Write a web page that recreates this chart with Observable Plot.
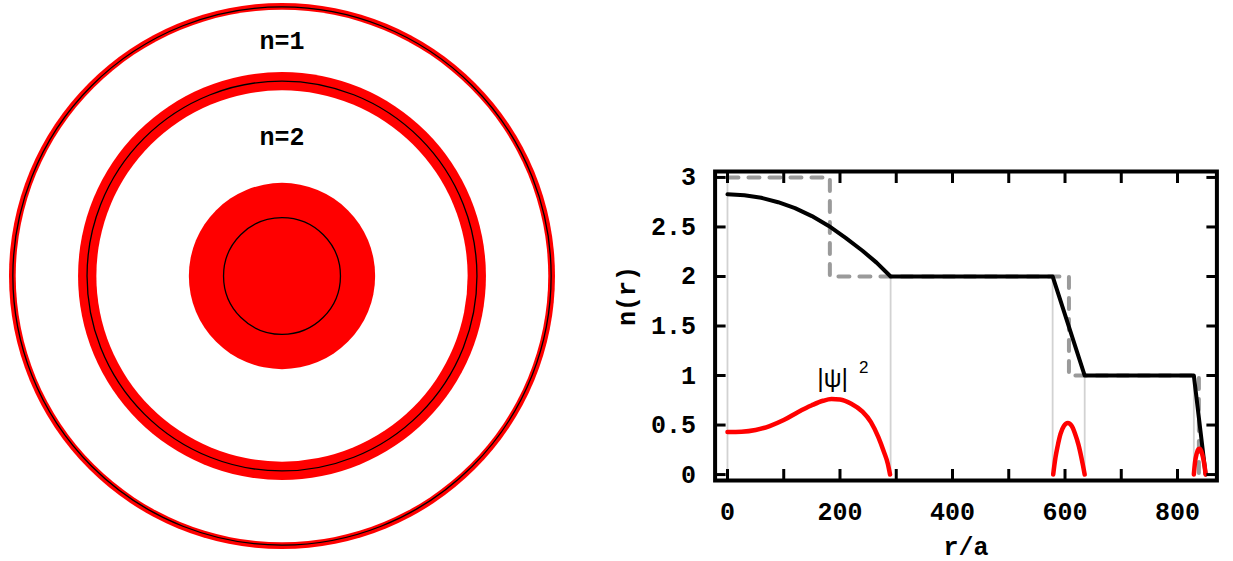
<!DOCTYPE html>
<html>
<head>
<meta charset="utf-8">
<script src="https://cdn.jsdelivr.net/npm/d3@7"></script>
<script src="https://cdn.jsdelivr.net/npm/@observablehq/plot@0.6"></script>
<style>
  html, body { margin: 0; padding: 0; background: #fff; }
  #wrap { display: flex; width: 1233px; height: 561px; overflow: hidden; }
</style>
</head>
<body>
<div id="wrap"></div>
<script>
// Radial guide geometry, in units of r/a
const guideRings = [[0, 290], [578, 635], [829, 850]];   // high-field regions [inner, outer]
const stepRadii = [182, 607, 838];                        // step-index boundaries
const stepLevels = [3, 2, 1, 0];                          // n on each side of the steps
const indexLabels = ["n=2", "n=1"];                       // gap between rings 0-1, then 1-2

// Graded index profile n(r)
const gradedR = [0, 30, 60, 90, 120, 150, 180, 210, 240, 265, 290, 578, 635, 829, 850];
const gradedN = [2.83, 2.82, 2.795, 2.75, 2.69, 2.61, 2.51, 2.39, 2.26, 2.14, 2.0, 2.0, 1.0, 1.0, 0.0];

// Light region boundaries
const boundaryR = [0, 290, 578, 635, 829];
const boundaryTop = [3, 2, 2, 1, 1];

// |psi|^2 in each region
const mode1R = [0, 25, 50, 75, 100, 125, 150, 170, 185, 200, 220, 240, 255, 268, 278, 285, 289];
const mode1V = [0.43, 0.433, 0.45, 0.49, 0.55, 0.63, 0.70, 0.745, 0.762, 0.757, 0.715, 0.635, 0.53, 0.38, 0.23, 0.11, 0.0];
const mode2R = [579, 583, 587, 592, 598, 605, 612, 618, 624, 629, 632, 635];
const mode2V = [0, 0.17, 0.29, 0.41, 0.49, 0.52, 0.49, 0.41, 0.30, 0.175, 0.09, 0];
const mode3R = [829, 831, 834, 837, 839, 842, 845, 848, 850];
const mode3V = [0, 0.12, 0.21, 0.255, 0.26, 0.24, 0.18, 0.09, 0];

// Axis ticks
const xTicks = [0, 100, 200, 300, 400, 500, 600, 700, 800];
const xTickLabels = [0, 200, 400, 600, 800];
const yTicks = [0, 0.5, 1, 1.5, 2, 2.5, 3];

const RED = "#ff0000";
const MONO = "'Courier New', 'Liberation Mono', monospace";
const SANS = "'Liberation Sans', Arial, sans-serif";

// ---------- cross-section ----------
const disks = guideRings
  .flatMap(([inner, outer]) => [{r: outer, hole: false}, {r: inner, hole: true}])
  .filter(d => d.r > 0)
  .sort((a, b) => b.r - a.r);

// each label sits midway across the gap between two neighbouring rings
const labelRows = indexLabels.map((text, i) => ({
  text,
  y: (guideRings[i][1] + guideRings[i + 1][0]) / 2
}));

const section = Plot.plot({
  width: 600,
  height: 561,
  marginLeft: 8.5,
  marginRight: 45.5,
  marginTop: 2.5,
  marginBottom: 12.5,
  x: {domain: [-850, 850], axis: null},
  y: {domain: [-850, 850], axis: null},
  r: {type: "linear", domain: [0, 850], range: [0, 273]},
  color: {type: "identity"},
  style: {background: "white", overflow: "visible"},
  marks: [
    Plot.dot(disks, {x: 0, y: 0, r: "r", fill: d => d.hole ? "white" : RED, stroke: null, sort: null}),
    Plot.dot(stepRadii, {x: 0, y: 0, r: d => d, fill: "none", stroke: "black", strokeWidth: 1.3}),
    Plot.text(labelRows, {x: 0, y: "y", text: "text", fontFamily: MONO, fontWeight: "bold", fontSize: 25, fill: "black"})
  ]
});

// ---------- profile chart ----------
const gradedRows = gradedR.map((r, i) => ({r, n: gradedN[i]}));
const stepRows = [{r: 0, n: stepLevels[0]}];
stepRadii.forEach((r, i) => {
  stepRows.push({r, n: stepLevels[i]});
  stepRows.push({r, n: stepLevels[i + 1]});
});
const boundaryRows = boundaryR.map((r, i) => ({r, top: boundaryTop[i]}));
const modeRows = [
  ...mode1R.map((r, i) => ({region: 1, r, v: mode1V[i]})),
  ...mode2R.map((r, i) => ({region: 2, r, v: mode2V[i]})),
  ...mode3R.map((r, i) => ({region: 3, r, v: mode3V[i]}))
];

const profile = Plot.plot({
  width: 633,
  height: 561,
  marginLeft: 114.6,
  marginRight: 16.6,
  marginTop: 171,
  marginBottom: 81,
  x: {domain: [-22, 870]},
  y: {domain: [-0.06, 3.06]},
  style: {background: "white", overflow: "visible", fontFamily: MONO, fontWeight: "bold", fontSize: "25px", color: "black"},
  marks: [
    Plot.ruleX(boundaryRows, {x: "r", y1: 0, y2: "top", stroke: "#d2d2d2", strokeWidth: 1.8}),
    Plot.line(stepRows, {x: "r", y: "n", stroke: "#9a9a9a", strokeWidth: 4, strokeDasharray: "11,10", strokeLinecap: "round"}),
    Plot.line(gradedRows, {x: "r", y: "n", stroke: "black", strokeWidth: 4, strokeLinejoin: "round"}),
    Plot.line(modeRows, {x: "r", y: "v", z: "region", curve: "monotone-x", stroke: RED, strokeWidth: 4.5, strokeLinecap: "round"}),
    Plot.text(["|ψ|"], {x: 187, y: 0.965, fontFamily: SANS, fontWeight: "normal", fontSize: 25, fill: "black"}),
    Plot.text(["2"], {x: 187, y: 0.965, dx: 31, dy: -11, fontFamily: SANS, fontWeight: "normal", fontSize: 17, fill: "black"}),
    Plot.frame({stroke: "black", strokeWidth: 4}),
    Plot.axisX({anchor: "bottom", ticks: xTicks, tickSize: -11, strokeWidth: 3, tickFormat: () => "", label: null}),
    Plot.axisX({anchor: "top", ticks: xTicks, tickSize: -11, strokeWidth: 3, tickFormat: () => "", label: null}),
    Plot.axisY({anchor: "left", ticks: yTicks, tickSize: -11, strokeWidth: 3, tickFormat: () => "", label: null}),
    Plot.axisY({anchor: "right", ticks: yTicks, tickSize: -11, strokeWidth: 3, tickFormat: () => "", label: null}),
    Plot.axisX({anchor: "bottom", ticks: xTickLabels, tickSize: 0, tickPadding: 22, tickFormat: d => String(d), label: null}),
    Plot.axisY({anchor: "left", ticks: yTicks, tickSize: 0, tickPadding: 19, tickFormat: d => String(d), label: null}),
    Plot.text(["n(r)"], {frameAnchor: "left", dx: -88, rotate: -90, fill: "black"}),
    Plot.text(["r/a"], {frameAnchor: "bottom", dy: 74, fill: "black"})
  ]
});

document.getElementById("wrap").append(section, profile);
</script>
</body>
</html>
